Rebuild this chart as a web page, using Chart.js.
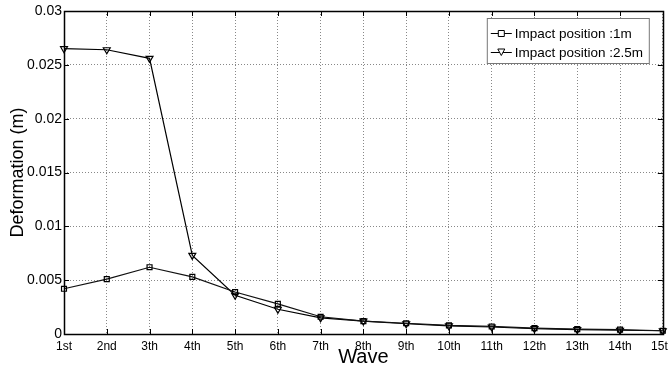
<!DOCTYPE html>
<html><head><meta charset="utf-8">
<script src="https://cdn.jsdelivr.net/npm/chart.js@4/dist/chart.umd.min.js"></script>
<style>html,body{margin:0;padding:0;background:#fff;overflow:hidden}</style>
</head><body>
<canvas id="c" width="668" height="369"></canvas>
<script>
const waves = ['1st','2nd','3th','4th','5th','6th','7th','8th','9th','10th','11th','12th','13th','14th','15th'];
const impact1m = [0.0042,0.0051,0.0062,0.0053,0.0039,0.0028,0.0016,0.0012,0.0010,0.0008,0.0007,0.00055,0.00045,0.0004,0.0003];
const impact25m = [0.0265,0.0264,0.0256,0.0073,0.0036,0.0023,0.0015,0.0012,0.00095,0.00075,0.00065,0.0005,0.0004,0.00035,0.0003];
const seriesNames = ['Impact position :1m','Impact position :2.5m'];
const yTicks = [0,0.005,0.01,0.015,0.02,0.025,0.03];

const FONT = "'Liberation Sans', Arial, sans-serif";

const framePlugin = {
  id:'frame',
  afterDraw(chart){
    const {ctx, chartArea:a, scales} = chart;
    ctx.save();
    ctx.strokeStyle = '#000';
    ctx.lineWidth = 1;
    ctx.beginPath();
    const xs = scales.x;
    for (let i=0;i<waves.length;i++){
      const px = Math.round(xs.getPixelForValue(i))+0.5;
      ctx.moveTo(px,a.bottom); ctx.lineTo(px,a.bottom-5);
      ctx.moveTo(px,a.top); ctx.lineTo(px,a.top+5);
    }
    const ys = scales.y;
    yTicks.forEach(v=>{
      const py = Math.round(ys.getPixelForValue(v))+0.5;
      ctx.moveTo(a.left,py); ctx.lineTo(a.left+5,py);
      ctx.moveTo(a.right,py); ctx.lineTo(a.right-5,py);
    });
    ctx.stroke();
    ctx.lineWidth = 1.5;
    ctx.strokeRect(Math.round(a.left)+0.5, Math.round(a.top)+0.5, Math.round(a.right-a.left), Math.round(a.bottom-a.top));
    // legend
    const lx = a.right - 176, ly = a.top + 7, lw = 162, lh = 45;
    ctx.fillStyle = '#fff';
    ctx.fillRect(lx, ly, lw, lh);
    ctx.lineWidth = 1;
    ctx.strokeStyle = '#777';
    ctx.strokeRect(lx+0.5, ly+0.5, lw, lh);
    ctx.strokeStyle = '#000';
    ctx.fillStyle = '#000';
    ctx.font = "13.5px " + FONT;
    ctx.textBaseline = 'middle';
    const rows = [ly+15, ly+34];
    rows.forEach((ry,i)=>{
      ctx.beginPath();
      ctx.moveTo(lx+4, ry+0.5); ctx.lineTo(lx+25, ry+0.5);
      ctx.stroke();
      const cx = lx+14.5;
      ctx.beginPath();
      if (i===0){
        ctx.rect(cx-3, ry-2.5, 6, 6);
      } else {
        ctx.moveTo(cx-3.5, ry-3); ctx.lineTo(cx+3.5, ry-3); ctx.lineTo(cx, ry+3.5); ctx.closePath();
      }
      ctx.fillStyle='#fff'; ctx.fill(); ctx.stroke();
      ctx.fillStyle='#000';
      ctx.fillText(seriesNames[i], lx+28, ry+1);
    });
    ctx.restore();
  }
};

new Chart(document.getElementById('c'), {
  type:'line',
  data:{
    labels: waves,
    datasets:[
      {label:seriesNames[0], data:impact1m, borderColor:'#111', borderWidth:1.2, pointStyle:'rect', pointRadius:3.5, pointBorderColor:'#000', pointBackgroundColor:'rgba(255,255,255,0)', pointBorderWidth:1.2, tension:0},
      {label:seriesNames[1], data:impact25m, borderColor:'#000', borderWidth:1.2, pointStyle:'triangle', pointRotation:180, pointRadius:4, pointBorderColor:'#000', pointBackgroundColor:'rgba(255,255,255,0)', pointBorderWidth:1.2, tension:0}
    ]
  },
  options:{
    responsive:false, animation:false,
    layout:{padding:{top:11,right:3,left:0,bottom:0}},
    plugins:{legend:{display:false}, tooltip:{enabled:false}},
    scales:{
      x:{
        offset:false,
        grid:{color:'#888', lineWidth:1, drawTicks:false},
        border:{display:false, dash:[1,2]},
        ticks:{color:'#000', font:{family:FONT,size:12}, padding:5, maxRotation:0, autoSkip:false},
        title:{display:true, text:'Wave', color:'#000', font:{family:FONT,size:20}, padding:{top:0,bottom:0}},
        afterFit(s){ s.height = 35; s.paddingLeft = 0; s.paddingRight = 0; }
      },
      y:{
        min:0, max:0.03,
        afterBuildTicks(s){ s.ticks = yTicks.map(v=>({value:v})); },
        grid:{color:'#888', lineWidth:1, drawTicks:false},
        border:{display:false, dash:[1,2]},
        ticks:{color:'#000', font:{family:FONT,size:14}, padding:2, callback:v=>String(+v.toFixed(3))},
        title:{display:true, text:'Deformation (m)', color:'#000', font:{family:FONT,size:18}, padding:{top:7,bottom:0}},
        afterFit(s){ s.width = 64; s.paddingTop = 0; s.paddingBottom = 0; }
      }
    }
  },
  plugins:[framePlugin]
});
</script>
</body></html>
